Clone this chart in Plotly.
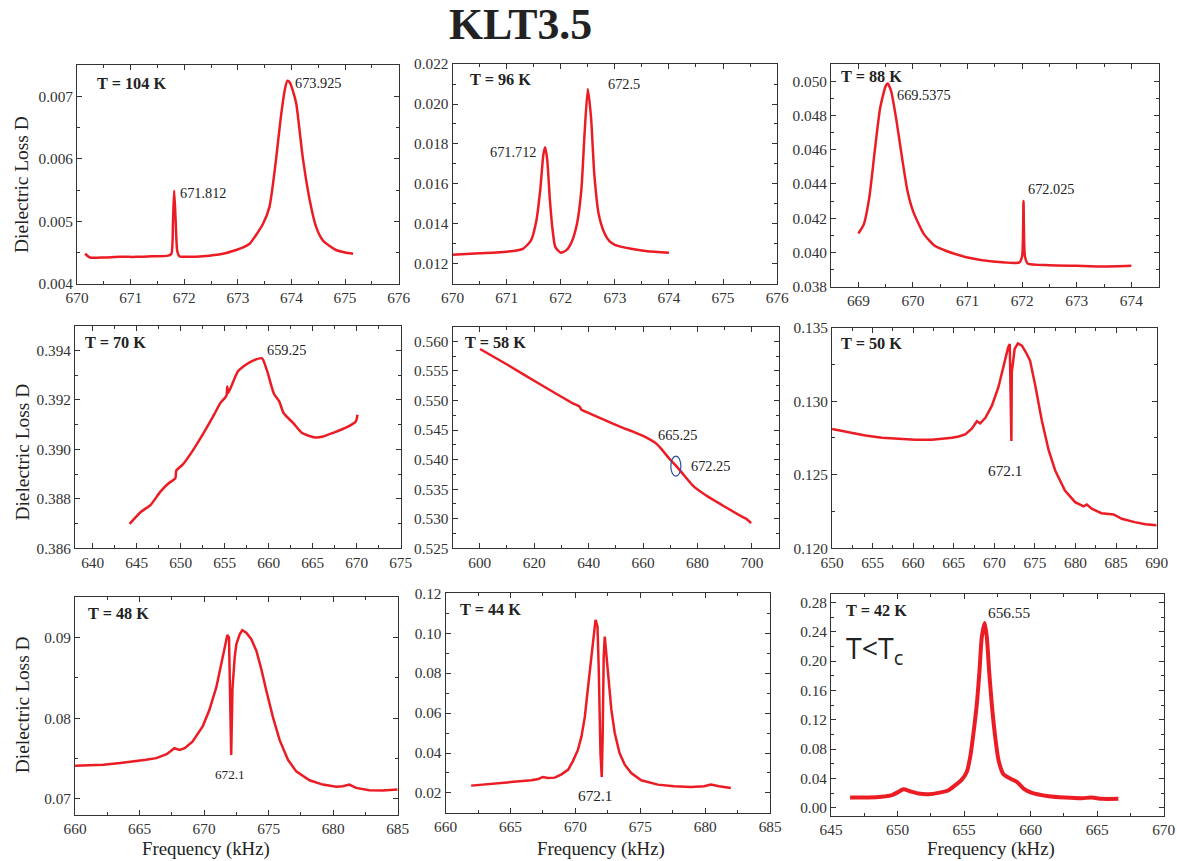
import plotly.graph_objects as go

W, H = 1177, 861
RED = "#ec1c24"
SERIF = "Liberation Serif, Times New Roman, serif"
INK = "#333333"

# ---------------- measured spectra (frequency in kHz, dielectric loss D) ----------------
f104 = [670.15, 670.24, 670.5, 670.8, 671.1, 671.4, 671.7, 671.76, 671.79, 671.812, 671.84, 671.87,
        671.91, 672.1, 672.35, 672.72, 672.97, 673.1, 673.22, 673.34, 673.47, 673.59, 673.71, 673.8,
        673.88, 673.925, 673.97, 674.03, 674.09, 674.21, 674.34, 674.46, 674.58, 674.7, 674.83, 675.0, 675.15]
d104 = [0.00448, 0.00442, 0.00442, 0.00443, 0.00443, 0.00444, 0.00445, 0.00448, 0.00500, 0.00549, 0.00500, 0.00452,
        0.00444, 0.00443, 0.00444, 0.00448, 0.00454, 0.00458, 0.00464, 0.00478, 0.00496, 0.00523, 0.00597, 0.00665,
        0.00712, 0.00725, 0.00722, 0.00708, 0.00688, 0.00603, 0.00534, 0.00491, 0.00470, 0.00461, 0.00454, 0.00450, 0.00448]

f96 = [670.0, 670.5, 671.0, 671.3, 671.45, 671.55, 671.62, 671.68, 671.712, 671.75, 671.8, 671.85, 671.9,
       672.0, 672.1, 672.2, 672.3, 672.38, 672.44, 672.5, 672.56, 672.62, 672.7, 672.8, 672.9, 673.0,
       673.3, 673.6, 674.0]
d96 = [0.01245, 0.01252, 0.01260, 0.01275, 0.01317, 0.01417, 0.01567, 0.01750, 0.01783, 0.01720, 0.01517, 0.01367, 0.01283,
       0.01255, 0.01267, 0.01308, 0.01400, 0.01567, 0.01850, 0.02075, 0.01933, 0.01650, 0.01450, 0.01358, 0.01313, 0.01295,
       0.01275, 0.01263, 0.01255]

f88 = [669.0, 669.1, 669.2, 669.3, 669.4, 669.5, 669.5375, 669.6, 669.7, 669.8, 669.9, 670.0, 670.2, 670.4,
       670.6, 671.0, 671.5, 671.95, 672.0, 672.025, 672.05, 672.1, 672.5, 673.0, 673.5, 674.0]
d88 = [0.04111, 0.04165, 0.04320, 0.04592, 0.04845, 0.04971, 0.04986, 0.04942, 0.04767, 0.04553, 0.04359, 0.04243, 0.04107, 0.04039,
       0.04010, 0.03971, 0.03946, 0.03942, 0.03980, 0.04300, 0.03980, 0.03936, 0.03926, 0.03922, 0.03918, 0.03922]

f70 = [644.2, 645.5, 646.6, 647.7, 648.6, 649.4, 649.5, 650.2, 651.3, 652.7, 653.8, 654.5, 655.2, 655.3, 655.4,
       656.5, 657.4, 658.3, 659.25, 659.8, 660.6, 661.2, 661.7, 662.8, 663.8, 665.3, 666.2, 667.4, 668.9, 669.9, 670.1]
d70 = [0.38699, 0.38748, 0.38776, 0.38829, 0.38862, 0.38884, 0.38914, 0.38937, 0.38991, 0.39072, 0.39140, 0.39187, 0.39217, 0.39254, 0.39228,
       0.39315, 0.39342, 0.39360, 0.39368, 0.39320, 0.39225, 0.39194, 0.39147, 0.39106, 0.39066, 0.39048, 0.39052, 0.39068, 0.39090, 0.39113, 0.39140]

f58 = [600.1, 609.7, 622.0, 634.2, 636.7, 637.3, 640.3, 646.4, 652.6, 656.3, 661.1, 664.2, 665.25, 666.7,
       669.7, 672.25, 674.6, 678.3, 683.2, 689.3, 695.5, 697.9, 699.7]
d58 = [0.55872, 0.55618, 0.55280, 0.54953, 0.54897, 0.54846, 0.54784, 0.54660, 0.54537, 0.54475, 0.54378, 0.54294, 0.54255, 0.54182,
       0.54014, 0.53890, 0.53760, 0.53562, 0.53394, 0.53225, 0.53056, 0.53000, 0.52926]

f50 = [650.0, 652.05, 654.1, 656.15, 658.2, 660.25, 662.3, 663.9, 664.8, 665.6, 666.4, 667.2, 667.85, 668.25,
       668.9, 669.7, 670.5, 671.1, 671.7, 671.9, 672.1, 672.15, 672.5, 672.9, 673.4, 674.0, 674.4, 675.0,
       675.85, 676.7, 677.5, 678.7, 679.95, 681.0, 681.4, 682.0, 683.2, 684.7, 685.7, 687.3, 688.6, 690.0]
d50 = [0.12812, 0.12789, 0.12767, 0.12751, 0.12744, 0.12738, 0.12738, 0.12744, 0.12751, 0.12760, 0.12774, 0.12812, 0.12864, 0.12850,
       0.12887, 0.12970, 0.13095, 0.13230, 0.13366, 0.13389, 0.12730, 0.13197, 0.13355, 0.13393, 0.13378, 0.13321, 0.13276, 0.13118,
       0.12869, 0.12665, 0.12529, 0.12393, 0.12314, 0.12285, 0.12298, 0.12269, 0.12239, 0.12230, 0.12201, 0.12178, 0.12163, 0.12156]

f48 = [660.0, 662.2, 663.5, 664.8, 665.5, 666.3, 667.1, 667.7, 668.1, 668.5, 669.1, 669.9, 670.4, 670.95,
       671.3, 671.6, 671.8, 671.93, 672.1, 672.2, 672.37, 672.5, 672.76, 672.96, 673.27, 673.66, 674.05, 674.43,
       674.82, 675.33, 675.85, 676.5, 677.14, 678.17, 679.2, 680.23, 680.75, 681.26, 681.78, 682.8, 683.84, 685.0]
d48 = [0.07410, 0.07422, 0.07443, 0.07467, 0.07484, 0.07504, 0.07553, 0.07627, 0.07607, 0.07627, 0.07709, 0.07902, 0.08098, 0.08385,
       0.08631, 0.08877, 0.09033, 0.09000, 0.07545, 0.08365, 0.08754, 0.08918, 0.09041, 0.09090, 0.09061, 0.08980, 0.08836, 0.08611,
       0.08344, 0.08016, 0.07730, 0.07484, 0.07340, 0.07230, 0.07176, 0.07148, 0.07156, 0.07176, 0.07135, 0.07107, 0.07102, 0.07115]

f44 = [661.97, 663.6, 665.1, 666.6, 667.15, 667.5, 667.9, 668.4, 668.9, 669.45, 669.8, 670.2, 670.47, 670.73,
       670.98, 671.19, 671.37, 671.55, 671.7, 671.8, 671.93, 672.03, 672.1, 672.18, 672.26, 672.39, 672.52, 672.77,
       673.03, 673.4, 673.8, 674.3, 675.07, 676.35, 677.6, 678.9, 679.92, 680.43, 681.07, 681.97]
d44 = [0.02367, 0.02450, 0.02533, 0.02633, 0.02700, 0.02800, 0.02750, 0.02767, 0.02917, 0.03167, 0.03583, 0.04167, 0.04833, 0.05833,
       0.07333, 0.08667, 0.09833, 0.10667, 0.10333, 0.08167, 0.04000, 0.02800, 0.04833, 0.08833, 0.09833, 0.08833, 0.07667, 0.06167,
       0.05000, 0.04000, 0.03417, 0.03000, 0.02633, 0.02417, 0.02333, 0.02300, 0.02333, 0.02417, 0.02333, 0.02250]

f42 = [646.43, 647.8, 648.8, 649.56, 650.07, 650.44, 650.94, 651.57, 652.32, 653.07, 653.83, 654.33, 654.83, 655.2,
       655.46, 655.7, 655.96, 656.16, 656.33, 656.55, 656.71, 656.88, 657.08, 657.34, 657.59, 657.96, 658.47, 658.97,
       659.47, 660.1, 661.35, 662.6, 663.86, 664.6, 665.36, 666.6]
d42 = [0.01404, 0.01404, 0.01495, 0.01721, 0.02174, 0.02537, 0.02265, 0.01948, 0.01857, 0.02038, 0.02401, 0.03080, 0.03850, 0.04892,
       0.06931, 0.10102, 0.14179, 0.18709, 0.23240, 0.25200, 0.23240, 0.18709, 0.14179, 0.09649, 0.06478, 0.04575, 0.03987, 0.03533,
       0.02627, 0.02038, 0.01586, 0.01404, 0.01314, 0.01404, 0.01223, 0.01223]

temps = ["T = 104 K", "T = 96 K", "T = 88 K", "T = 70 K", "T = 58 K", "T = 50 K", "T = 48 K", "T = 44 K", "T = 42 K"]
series = [(f104, d104), (f96, d96), (f88, d88), (f70, d70), (f58, d58),
          (f50, d50), (f48, d48), (f44, d44), (f42, d42)]

# ---------------- panel geometry and axis settings (screen boxes: left, right, top, bottom) ----------------
panels = [
    dict(box=(74, 396, 64, 283), xr=[670, 676], xd=1, xm=0.5, yr=[0.004, 0.0075], yd=0.001, ym=0.0005, yf=".3f", lw=2.5, smooth=True),
    dict(box=(450, 775, 63, 283), xr=[670, 676], xd=1, xm=0.5, yr=[0.011, 0.022], yd=0.002, ym=0.001, yf=".3f", lw=2.5, smooth=True),
    dict(box=(829, 1157, 63, 286), xr=[668.5, 674.5], xd=1, xm=0.5, yr=[0.038, 0.051], yd=0.002, ym=0.001, yf=".3f", lw=2.5, smooth=True),
    dict(box=(72, 398, 325, 548), xr=[638, 675], xd=5, xm=2.5, yr=[0.386, 0.395], yd=0.002, ym=0.001, yf=".3f", lw=2.5, smooth=True),
    dict(box=(450, 777, 326, 548), xr=[590, 710], xd=20, xm=10, yr=[0.525, 0.5625], yd=0.005, ym=0.0025, yf=".3f", lw=2.5, smooth=True),
    dict(box=(830, 1155, 327, 548), xr=[650, 690], xd=5, xm=2.5, yr=[0.120, 0.135], yd=0.005, ym=0.0025, yf=".3f", lw=2.5, smooth=False),
    dict(box=(72, 395, 597, 815), xr=[660, 685], xd=5, xm=2.5, yr=[0.068, 0.095], yd=0.01, ym=0.005, yf=".2f", lw=2.5, smooth=False),
    dict(box=(443, 768, 593, 813), xr=[660, 685], xd=5, xm=2.5, yr=[0.01, 0.12], yd=0.02, ym=0.01, yf=".2f", lw=2.5, smooth=False),
    dict(box=(829, 1162, 594, 816), xr=[645, 670], xd=5, xm=2.5, yr=[-0.011, 0.291], yd=0.04, ym=0.02, yf=".2f", lw=4, smooth=True),
]

# The page keeps the browser's default 8 px body margin and the capture is
# scaled back to the window, so screen positions are mapped into figure space.
K = 861 / 877
OFF = 8


def px(s):
    return (s / K - OFF) / W


def py(s):
    return 1 - (s / K - OFF) / H


def fs(size):
    return round(size / K, 1)


fig = go.Figure()
layout = dict(
    width=W, height=H, margin=dict(l=0, r=0, t=0, b=0),
    paper_bgcolor="white", plot_bgcolor="white", showlegend=False,
)

for i, (p, (fx, dy)) in enumerate(zip(panels, series)):
    n = "" if i == 0 else str(i + 1)
    l, r, t, b = p["box"]
    fig.add_trace(go.Scatter(
        x=fx, y=dy, mode="lines", xaxis="x" + n, yaxis="y" + n,
        line=dict(color=RED, width=p["lw"], shape="spline" if p["smooth"] else "linear", smoothing=0.6),
        hoverinfo="x+y",
    ))
    common = dict(
        showline=True, linecolor=INK, linewidth=1, mirror="ticks",
        ticks="inside", ticklen=5, tickcolor=INK, showgrid=False, zeroline=False,
        tickfont=dict(family=SERIF, size=fs(15), color=INK),
    )
    layout["xaxis" + n] = dict(
        common, domain=[px(l), px(r)], range=p["xr"], tick0=0, dtick=p["xd"],
        anchor="y" + n,
        minor=dict(ticks="inside", ticklen=3, tickcolor=INK, tick0=0, dtick=p["xm"]),
    )
    layout["yaxis" + n] = dict(
        common, domain=[py(b), py(t)], range=p["yr"], tick0=0, dtick=p["yd"],
        tickformat=p["yf"], anchor="x" + n,
        minor=dict(ticks="inside", ticklen=3, tickcolor=INK, tick0=0, dtick=p["ym"]),
    )

annotations = []


def note(x, y, text, size=14, bold=False, family=SERIF, angle=0, xanchor="center"):
    annotations.append(dict(
        x=px(x), y=py(y), xref="paper", yref="paper", text=f"<b>{text}</b>" if bold else text,
        showarrow=False, xanchor=xanchor, yanchor="middle", textangle=angle,
        font=dict(family=family, size=fs(size), color="#222222"),
    ))


# figure title
note(518, 23, "KLT3.5", size=43, bold=True)

# temperature labels
temp_pos = [(92, 82), (465, 78), (837, 75), (80, 342), (460, 342), (837, 343), (83, 613), (455, 609), (842, 610)]
for (x, y), txt in zip(temp_pos, temps):
    note(x, y, txt, size=16, bold=True, xanchor="left")

# resonance frequencies
note(315, 82, "673.925")
note(200, 192, "671.812")
note(622, 83, "672.5")
note(511, 151, "671.712")
note(922, 94, "669.5375")
note(1049, 188, "672.025")
note(284, 349, "659.25")
note(675, 435, "665.25")
note(708, 466, "672.25")
note(1003, 470, "672.1", size=15)
note(227, 775, "672.1", size=13)
note(593, 796, "672.1", size=15)
note(1007, 612, "656.55", size=15)
note(842, 650, "T&lt;T<sub>c</sub>", size=28, family="Open Sans, Noto Sans, sans-serif", xanchor="left")

# axis titles
for yc in (184, 452, 705):
    note(19, yc, "Dielectric Loss D", size=19, angle=-90)
for xc in (203, 599, 989):
    note(xc, 849, "Frequency (kHz)", size=18.5)

layout["annotations"] = annotations

# highlight around the weak feature near 672.25 kHz at 58 K
layout["shapes"] = [dict(
    type="circle", xref="x5", yref="y5", x0=670.2, x1=673.9, y0=0.5372, y1=0.5406,
    line=dict(color="#2b4ea2", width=1.2),
)]

fig.update_layout(**layout)
fig.write_html("out.html")
